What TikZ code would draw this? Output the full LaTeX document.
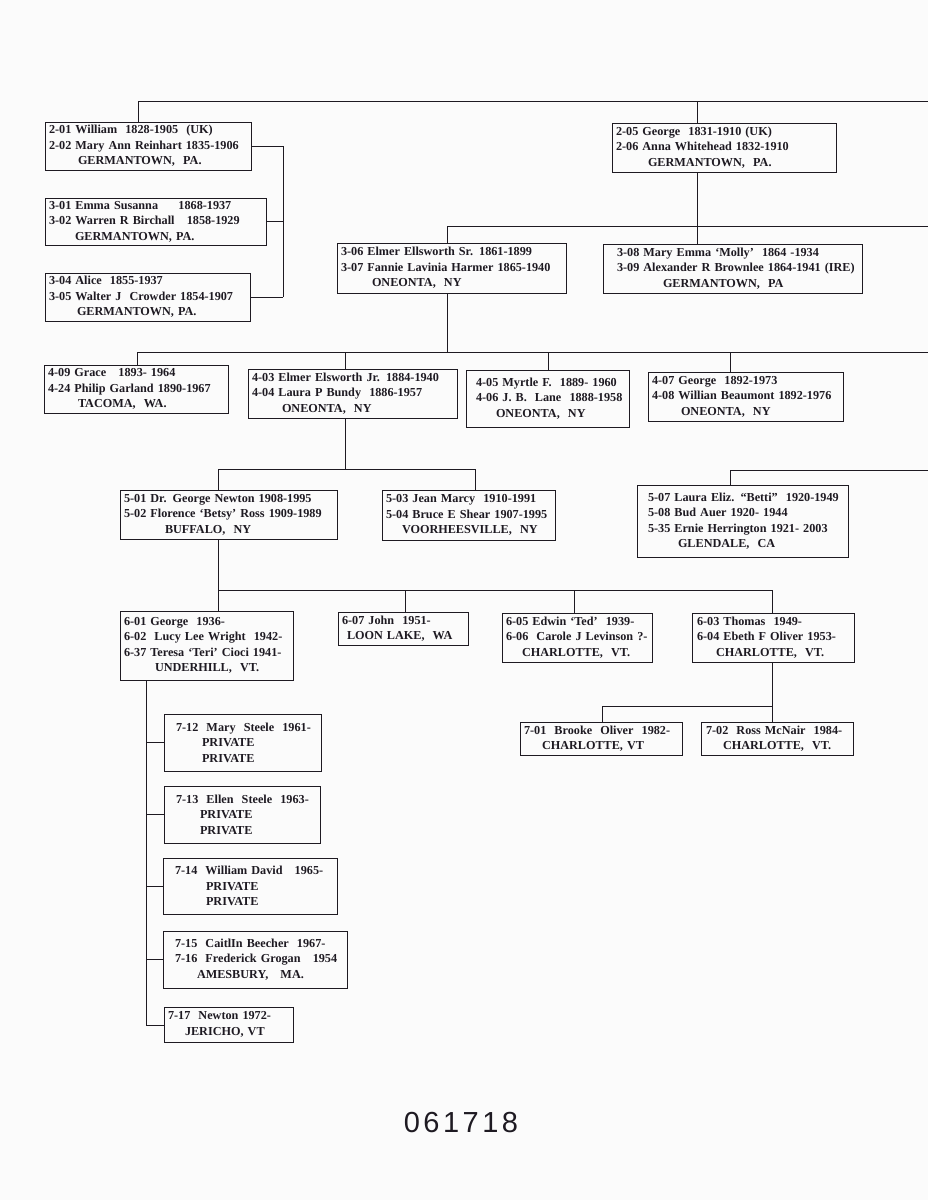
\documentclass[tikz,border=0pt]{standalone}
\usepackage{fontspec}
\setmainfont{Liberation Serif}
\newfontfamily\stampfont[LetterSpace=12]{Liberation Sans}
\definecolor{ink}{HTML}{1E1A22}
\definecolor{paper}{HTML}{FBFBFB}
\begin{document}
\begin{tikzpicture}[x=1pt,y=-1pt,
  box/.style={draw=ink, line width=1pt, inner xsep=4pt, inner ysep=0pt, align=left,
    text=ink, font=\fontsize{12.2}{15.5}\selectfont\bfseries},
  conn/.style={draw=ink, line width=1pt}]
\fill[paper] (0,0) rectangle (928,1200);
\useasboundingbox (0,0) rectangle (928,1200);
% ---- boxes
\node[box, minimum width=206pt, minimum height=48pt, text width=198pt] (A) at (148,146)
 {2-01 William\ \ 1828-1905\ \ (UK)\\2-02 Mary Ann Reinhart 1835-1906\\\hspace*{29pt}GERMANTOWN,\ \ PA.};
\node[box, minimum width=221pt, minimum height=47pt, text width=213pt] (B) at (155.5,221.5)
 {3-01 Emma Susanna\ \ \ \ \ 1868-1937\\3-02 Warren R Birchall\ \ \ 1858-1929\\\hspace*{26pt}GERMANTOWN, PA.};
\node[box, minimum width=205pt, minimum height=48pt, text width=197pt] (C) at (147.5,297)
 {3-04 Alice\ \ 1855-1937\\3-05 Walter J\ \ Crowder 1854-1907\\\hspace*{28pt}GERMANTOWN, PA.};
\node[box, minimum width=224pt, minimum height=49pt, text width=216pt] (D) at (724,147.5)
 {2-05 George\ \ 1831-1910 (UK)\\2-06 Anna Whitehead 1832-1910\\\hspace*{32pt}GERMANTOWN,\ \ PA.};
\node[box, minimum width=229pt, minimum height=50pt, text width=221pt] (E) at (451.5,268)
 {3-06 Elmer Ellsworth Sr. 1861-1899\\3-07 Fannie Lavinia Harmer 1865-1940\\\hspace*{31pt}ONEONTA,\ \ NY};
\node[box, minimum width=259pt, minimum height=49pt, text width=251pt] (F) at (732.5,268.5)
 {\hspace*{10pt}3-08 Mary Emma ‘Molly’\ \ 1864 -1934\\\hspace*{10pt}3-09 Alexander R Brownlee 1864-1941 (IRE)\\\hspace*{56pt}GERMANTOWN,\ \ PA};
\node[box, minimum width=184pt, minimum height=48pt, text width=176pt] (G) at (136,389)
 {4-09 Grace\ \ \ 1893- 1964\\4-24 Philip Garland 1890-1967\\\hspace*{30pt}TACOMA,\ \ WA.};
\node[box, minimum width=209pt, minimum height=49pt, text width=201pt] (H) at (352.5,393.5)
 {4-03 Elmer Elsworth Jr. 1884-1940\\4-04 Laura P Bundy\ \ 1886-1957\\\hspace*{30pt}ONEONTA,\ \ NY};
\node[box, minimum width=163pt, minimum height=57pt, text width=155pt] (I) at (547.5,398.5)
 {\hspace*{6pt}4-05 Myrtle F.\ \ 1889- 1960\\\hspace*{6pt}4-06 J. B.\ \ Lane\ \ 1888-1958\\\hspace*{26pt}ONEONTA,\ \ NY};
\node[box, minimum width=195pt, minimum height=49pt, text width=187pt] (J) at (745.5,396.5)
 {4-07 George\ \ 1892-1973\\4-08 Willian Beaumont 1892-1976\\\hspace*{29pt}ONEONTA,\ \ NY};
\node[box, minimum width=217pt, minimum height=49pt, text width=209pt] (K) at (228.5,514.5)
 {5-01 Dr. George Newton 1908-1995\\5-02 Florence ‘Betsy’ Ross 1909-1989\\\hspace*{41pt}BUFFALO,\ \ NY};
\node[box, minimum width=173pt, minimum height=50pt, text width=165pt] (L) at (468.5,515)
 {5-03 Jean Marcy\ \ 1910-1991\\5-04 Bruce E Shear 1907-1995\\\hspace*{16pt}VOORHEESVILLE,\ \ NY};
\node[box, minimum width=211pt, minimum height=72pt, text width=203pt] (M) at (742.5,521)
 {\hspace*{7pt}5-07 Laura Eliz. “Betti”\ \ 1920-1949\\\hspace*{7pt}5-08 Bud Auer 1920- 1944\\\hspace*{7pt}5-35 Ernie Herrington 1921- 2003\\\hspace*{37pt}GLENDALE,\ \ CA};
\node[box, minimum width=173pt, minimum height=69pt, text width=165pt] (N) at (206.5,645.5)
 {6-01 George\ \ 1936-\\6-02\ \ Lucy Lee Wright\ \ 1942-\\6-37 Teresa ‘Teri’ Cioci 1941-\\\hspace*{31pt}UNDERHILL,\ \ VT.};
\node[box, minimum width=130pt, minimum height=33pt, text width=122pt] (O) at (403,628.5)
 {6-07 John\ \ 1951-\\\hspace*{5pt}LOON LAKE,\ \ WA};
\node[box, minimum width=150pt, minimum height=49pt, text width=142pt] (P) at (577,637.5)
 {6-05 Edwin ‘Ted’\ \ 1939-\\6-06\ \ Carole J Levinson ?-\\\hspace*{16pt}CHARLOTTE,\ \ VT.};
\node[box, minimum width=162pt, minimum height=49pt, text width=154pt] (Q) at (773,637.5)
 {\hspace*{1pt}6-03 Thomas\ \ 1949-\\\hspace*{1pt}6-04 Ebeth F Oliver 1953-\\\hspace*{20pt}CHARLOTTE,\ \ VT.};
\node[box, minimum width=162pt, minimum height=33pt, text width=154pt] (R) at (601,738.5)
 {7-01\ \ Brooke\ \ Oliver\ \ 1982-\\\hspace*{18pt}CHARLOTTE, VT};
\node[box, minimum width=152pt, minimum height=33pt, text width=144pt] (S) at (777,738.5)
 {\hspace*{1pt}7-02\ \ Ross McNair\ \ 1984-\\\hspace*{18pt}CHARLOTTE,\ \ VT.};
\node[box, minimum width=157pt, minimum height=57pt, text width=149pt] (T) at (242.5,742.5)
 {\hspace*{8pt}7-12\ \ Mary\ \ Steele\ \ 1961-\\\hspace*{34pt}PRIVATE\\\hspace*{34pt}PRIVATE};
\node[box, minimum width=156pt, minimum height=57pt, text width=148pt] (U) at (242,814.5)
 {\hspace*{8pt}7-13\ \ Ellen\ \ Steele\ \ 1963-\\\hspace*{32pt}PRIVATE\\\hspace*{32pt}PRIVATE};
\node[box, minimum width=174pt, minimum height=56pt, text width=166pt] (V) at (250,886)
 {\hspace*{8pt}7-14\ \ William David\ \ \ 1965-\\\hspace*{39pt}PRIVATE\\\hspace*{39pt}PRIVATE};
\node[box, minimum width=184pt, minimum height=57pt, text width=176pt] (W) at (255,959.5)
 {\hspace*{8pt}7-15\ \ CaitlIn Beecher\ \ 1967-\\\hspace*{8pt}7-16\ \ Frederick Grogan\ \ \ 1954\\\hspace*{30pt}AMESBURY,\ \ \ MA.};
\node[box, minimum width=129pt, minimum height=35pt, text width=121pt] (X) at (228.5,1024.5)
 {7-17\ \ Newton 1972-\\\hspace*{17pt}JERICHO, VT};
\node[text=ink, font=\stampfont\fontsize{29}{29}\selectfont] (num) at (461,1123) {061718};
% ---- connectors
\coordinate (topL) at (138,101);
\coordinate (topR) at (928,101);
\coordinate (tD) at (697,101);
\draw[conn] (topL) -- (topR);
\draw[conn] (topL) -- (topL |- A.north);
\draw[conn] (tD) -- (tD |- D.north);
\coordinate (br) at (283,147);
\draw[conn] (A.east) -- (A.east -| br);
\draw[conn] (B.east) -- (B.east -| br);
\draw[conn] (C.east) -- (C.east -| br);
\draw[conn] (br |- A.east) -- (br |- C.east);
\draw[conn] (tD |- D.south) -- (tD |- F.north);
\coordinate (h3L) at (447,226);
\coordinate (h3R) at (928,226);
\draw[conn] (h3L) -- (h3R);
\draw[conn] (h3L) -- (h3L |- E.north);
\coordinate (h4) at (447,352);
\coordinate (h4L) at (137,352);
\coordinate (h4R) at (928,352);
\draw[conn] (h4 |- E.south) -- (h4);
\draw[conn] (h4L) -- (h4R);
\draw[conn] (h4L) -- (h4L |- G.north);
\coordinate (vH) at (345,352);
\coordinate (vI) at (548,352);
\coordinate (vJ) at (730,352);
\draw[conn] (vH) -- (vH |- H.north);
\draw[conn] (vI) -- (vI |- I.north);
\draw[conn] (vJ) -- (vJ |- J.north);
\coordinate (h5L) at (218,469);
\coordinate (h5R) at (475,469);
\draw[conn] (vH |- H.south) -- (vH |- h5L);
\draw[conn] (h5L) -- (h5R);
\draw[conn] (h5L) -- (h5L |- K.north);
\draw[conn] (h5R) -- (h5R |- L.north);
\coordinate (hM) at (730,470);
\coordinate (hMR) at (928,470);
\draw[conn] (hMR) -- (hM) -- (hM |- M.north);
\coordinate (h6L) at (218,590);
\coordinate (h6R) at (772,590);
\coordinate (vO) at (405,590);
\coordinate (vP) at (574,590);
\draw[conn] (h6L |- K.south) -- (h6L) -- (h6R);
\draw[conn] (h6L) -- (h6L |- N.north);
\draw[conn] (vO) -- (vO |- O.north);
\draw[conn] (vP) -- (vP |- P.north);
\draw[conn] (h6R) -- (h6R |- Q.north);
\coordinate (h7L) at (602,706);
\coordinate (h7R) at (772,706);
\draw[conn] (h7R |- Q.south) -- (h7R |- S.north);
\draw[conn] (h7L) -- (h7R);
\draw[conn] (h7L) -- (h7L |- R.north);
\coordinate (vN) at (146,1025);
\draw[conn] (vN |- N.south) -- (vN) -- (vN -| X.west);
\draw[conn] (T.west) -- (T.west -| vN);
\draw[conn] (U.west) -- (U.west -| vN);
\draw[conn] (V.west) -- (V.west -| vN);
\draw[conn] (W.west) -- (W.west -| vN);
\end{tikzpicture}
\end{document}
